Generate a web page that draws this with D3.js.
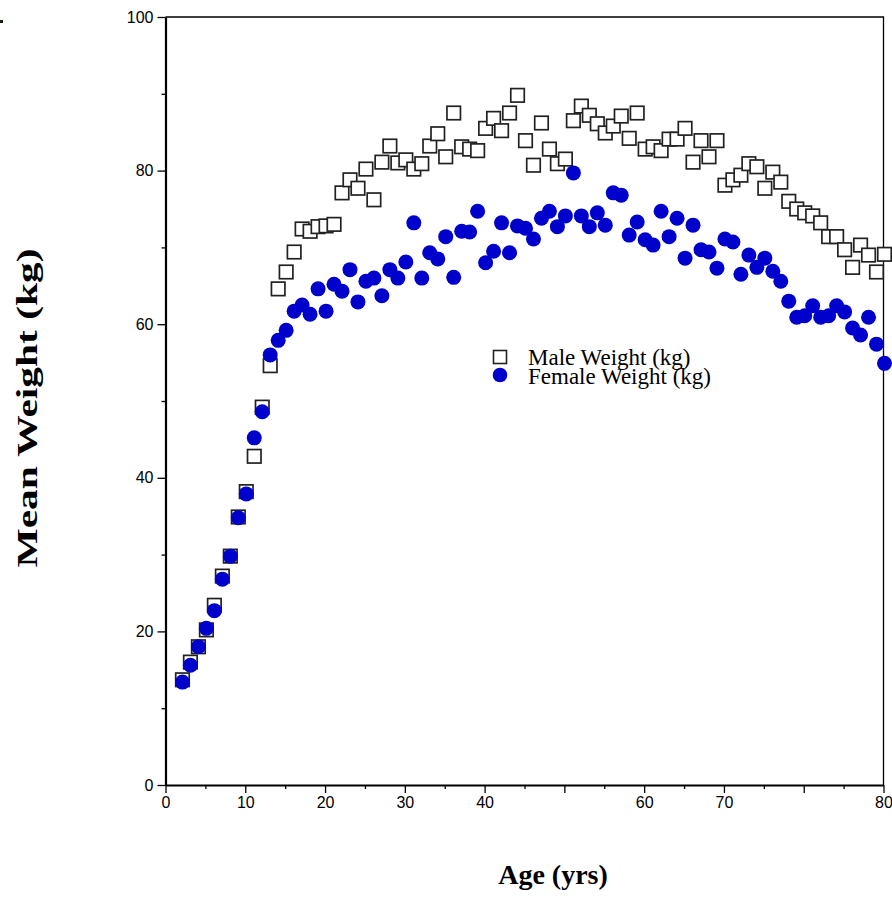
<!DOCTYPE html>
<html lang="en">

<head>
    <meta charset="UTF-8">
    <title>Mean Weight by Age</title>
    <script src="https://d3js.org/d3.v7.min.js"></script>
    <style>
        body { margin: 0; background: #fff; }
        .tick text { font-family: "Liberation Sans", Arial, sans-serif; fill: #000; }
    </style>
</head>

<body>
    <div id="my_dataviz"><svg class="weight"></svg></div>

    <script>
        // ages (years)
        var ages = [2, 3, 4, 5, 6, 7, 8, 9, 10, 11, 12, 13, 14, 15, 16, 17, 18, 19, 20, 21,
            22, 23, 24, 25, 26, 27, 28, 29, 30, 31, 32, 33, 34, 35, 36, 37, 38, 39, 40, 41,
            42, 43, 44, 45, 46, 47, 48, 49, 50, 51, 52, 53, 54, 55, 56, 57, 58, 59, 60, 61,
            62, 63, 64, 65, 66, 67, 68, 69, 70, 71, 72, 73, 74, 75, 76, 77, 78, 79, 80, 81,
            82, 83, 84, 85, 86, 87, 88, 89, 90]

        // mean weight (kg)
        var maleWeight = [13.7, 16.0, 18.0, 20.2, 23.4, 27.2, 29.8, 34.9, 38.2, 42.8, 49.2,
            54.6, 64.6, 66.8, 69.4, 72.4, 72.1, 72.7, 72.8, 73.0, 77.1, 78.8, 77.7, 80.2, 76.2,
            81.1, 83.2, 81.0, 81.4, 80.2, 80.9, 83.2, 84.8, 81.8, 87.5, 83.1, 82.8, 82.6, 85.5,
            86.8, 85.2, 87.5, 89.8, 83.9, 80.7, 86.2, 82.8, 80.9, 81.5, 86.5, 88.4, 87.2, 86.1,
            84.9, 85.8, 87.1, 84.2, 87.5, 82.8, 83.1, 82.6, 84.1, 84.1, 85.5, 81.1, 83.9, 81.8,
            83.9, 78.1, 78.8, 79.4, 80.9, 80.5, 77.7, 79.8, 78.5, 76.0, 75.0, 74.5, 74.1, 73.2,
            71.4, 71.4, 69.7, 67.4, 70.3, 69.0, 66.8, 69.1]

        var femaleWeight = [13.4, 15.6, 18.0, 20.4, 22.7, 26.8, 29.8, 34.8, 37.9, 45.2, 48.6,
            56.0, 57.9, 59.2, 61.7, 62.5, 61.3, 64.6, 61.7, 65.2, 64.3, 67.1, 62.9, 65.6, 66.0,
            63.7, 67.1, 66.0, 68.1, 73.2, 66.0, 69.3, 68.5, 71.4, 66.1, 72.1, 72.0, 74.7, 68.0,
            69.5, 73.2, 69.3, 72.8, 72.5, 71.1, 73.8, 74.7, 72.7, 74.1, 79.7, 74.1, 72.7, 74.5,
            72.9, 77.1, 76.8, 71.6, 73.3, 71.0, 70.3, 74.7, 71.4, 73.8, 68.6, 72.9, 69.7, 69.4,
            67.3, 71.1, 70.7, 66.5, 69.0, 67.4, 68.6, 66.9, 65.6, 63.0, 60.9, 61.1, 62.4, 60.9,
            61.1, 62.4, 61.6, 59.5, 58.6, 60.9, 57.4, 54.9]

        // tick labels as printed on the original
        var xTickValues = [0, 10, 20, 30, 40, 50, 60, 70, 80, 90]
        var xTickLabels = ["0", "10", "20", "30", "40", "", "60", "70", "", "80"]
        var yTickValues = [0, 20, 40, 60, 80, 100]
        var yTickLabels = ["0", "20", "40", "60", "80", "100"]

        var seriesNames = ["Male Weight (kg)", "Female Weight (kg)"]

        var W = 892, H = 897
        var plotLeft = 165.5, plotRight = 883.5, plotTop = 17, plotBottom = 785

        var svg = d3.select("#my_dataviz").select(".weight")
            .attr("width", W)
            .attr("height", H)

        var x = d3.scaleLinear().domain([0, 90]).range([plotLeft, plotRight])
        var y = d3.scaleLinear().domain([0, 100]).range([plotBottom, plotTop])

        var male = ages.map(function (a, i) { return { age: a, value: maleWeight[i] } })
        var female = ages.map(function (a, i) { return { age: a, value: femaleWeight[i] } })

        // frame (top and right)
        svg.append("path")
            .attr("d", "M" + plotLeft + "," + plotTop + "H" + plotRight + "V" + plotBottom)
            .attr("fill", "none")
            .attr("stroke", "#000")
            .attr("stroke-width", 1.3)

        // X axis
        var xAxis = svg.append("g")
            .attr("transform", "translate(0," + plotBottom + ")")
            .call(d3.axisBottom(x)
                .tickValues(xTickValues)
                .tickFormat(function (d, i) { return xTickLabels[i] })
                .tickSize(8)
                .tickSizeOuter(0)
                .tickPadding(4))
        xAxis.select(".domain").attr("stroke-width", 2.2)
        xAxis.selectAll(".tick line").attr("stroke-width", 1.3)
        xAxis.selectAll(".tick text").style("font-size", "16px")

        svg.append("g")
            .attr("transform", "translate(0," + plotBottom + ")")
            .call(d3.axisBottom(x).tickValues(d3.range(5, 90, 10)).tickFormat("").tickSize(4))
            .call(function (g) { g.select(".domain").remove() })
            .selectAll(".tick line").attr("stroke-width", 1.3)

        // Y axis
        var yAxis = svg.append("g")
            .attr("transform", "translate(" + plotLeft + ",0)")
            .call(d3.axisLeft(y)
                .tickValues(yTickValues)
                .tickFormat(function (d, i) { return yTickLabels[i] })
                .tickSize(8)
                .tickSizeOuter(0)
                .tickPadding(4))
        yAxis.select(".domain").attr("stroke-width", 2.2)
        yAxis.selectAll(".tick line").attr("stroke-width", 1.3)
        yAxis.selectAll(".tick text").style("font-size", "16px")

        svg.append("g")
            .attr("transform", "translate(" + plotLeft + ",0)")
            .call(d3.axisLeft(y).tickValues(d3.range(10, 100, 20)).tickFormat("").tickSize(4))
            .call(function (g) { g.select(".domain").remove() })
            .selectAll(".tick line").attr("stroke-width", 1.3)

        // male: open squares
        var sq = 13.5
        svg.append("g")
            .selectAll("rect")
            .data(male)
            .enter()
            .append("rect")
            .attr("x", function (d) { return x(d.age) - sq / 2 + 1 })
            .attr("y", function (d) { return y(d.value) - sq / 2 })
            .attr("width", sq)
            .attr("height", sq)
            .attr("fill", "#fff")
            .attr("stroke", "#222")
            .attr("stroke-width", 1.7)

        // female: filled circles
        svg.append("g")
            .selectAll("circle")
            .data(female)
            .enter()
            .append("circle")
            .attr("cx", function (d) { return x(d.age) + 1 })
            .attr("cy", function (d) { return y(d.value) })
            .attr("r", 7.5)
            .attr("fill", "#0000cc")

        // legend
        var legend = svg.append("g").attr("transform", "translate(500,0)")
        legend.append("rect")
            .attr("x", -6.5).attr("y", 350.5)
            .attr("width", 13).attr("height", 13)
            .attr("fill", "#fff").attr("stroke", "#222").attr("stroke-width", 1.6)
        legend.append("circle")
            .attr("cx", 0).attr("cy", 375).attr("r", 7.3)
            .attr("fill", "#0000cc")
        legend.selectAll("text")
            .data(seriesNames)
            .enter()
            .append("text")
            .attr("x", 28)
            .attr("y", function (d, i) { return 365 + i * 18.5 })
            .text(function (d) { return d })
            .style("font-family", "'Liberation Serif', 'Times New Roman', serif")
            .style("font-size", "23px")
            .style("fill", "#000")

        // axis titles
        svg.append("text")
            .attr("x", 553)
            .attr("y", 884)
            .attr("text-anchor", "middle")
            .text("Age (yrs)")
            .style("font-family", "'Liberation Serif', 'Times New Roman', serif")
            .style("font-weight", "bold")
            .style("font-size", "28px")

        // the original's y title is drawn stretched along its length
        svg.append("text")
            .attr("transform", "translate(37,408) rotate(-90) scale(1.38,1)")
            .attr("text-anchor", "middle")
            .text("Mean Weight (kg)")
            .style("font-family", "'Liberation Serif', 'Times New Roman', serif")
            .style("font-weight", "bold")
            .style("font-size", "30px")

        // stray mark at the top left of the original
        svg.append("rect")
            .attr("x", 0).attr("y", 20).attr("width", 3).attr("height", 3)
            .attr("fill", "#112211")
    </script>
</body>

</html>
